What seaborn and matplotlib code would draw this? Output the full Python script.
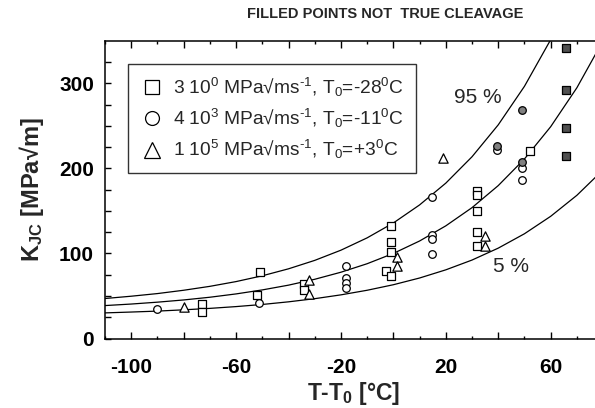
import matplotlib
matplotlib.use("Agg")
import matplotlib.pyplot as plt
from matplotlib.lines import Line2D
import seaborn as sns
import pandas as pd

# ---- data ----
sq_T = [-73, -73, -51, -52, -34, -34, -1, -1, -1, -3, -1, 32, 32, 32, 32, 32, 52.2]
sq_K = [40.6, 31.6, 78.6, 51.5, 63.5, 57.0, 132.4, 113.7, 101.9, 79.2, 74.0,
        173.5, 168.5, 150.0, 125.0, 109.2, 219.8]
sq_fill_T = [66, 66, 66, 66]
sq_fill_K = [341.4, 292.4, 247.3, 214.7]

ci_T = [-90.2, -51.1, -18.2, -18.2, -18.2, -18.2, 14.9, 14.9, 14.9, 14.9, 39.5, 48.9, 48.9]
ci_K = [35.1, 41.8, 85.3, 70.8, 64.9, 59.0, 166.8, 121.5, 116.5, 99.2, 221.8, 200.2, 186.5]
ci_fill_T = [48.9, 39.5, 48.9]
ci_fill_K = [268.0, 226.5, 208.0]

tr_T = [-80, -32.2, -32.2, 1.2, 1.2, 19, 35.1, 35.1]
tr_K = [36.7, 68.8, 52.0, 95.8, 85.5, 212.0, 120.0, 108.8]

curve_T = [-110, -100, -90, -80, -70, -60, -50, -40, -30, -20, -10, 0,
           10, 20, 30, 40, 50, 60, 70, 80]
curve_05 = [30.1, 31.1, 32.2, 33.7, 35.4, 37.5, 40.0, 43.1, 46.8, 51.3, 56.7, 63.2,
            71.1, 80.7, 92.2, 106.2, 123.1, 143.6, 168.3, 198.2]
curve_50 = [38.7, 40.5, 42.7, 45.3, 48.5, 52.4, 57.1, 62.7, 69.6, 77.9, 87.9, 100.0,
            114.6, 132.4, 153.8, 179.7, 211.0, 248.9, 294.7, 350.1]
curve_95 = [47.0, 49.7, 52.8, 56.7, 61.3, 66.9, 73.7, 81.9, 91.8, 103.8, 118.3, 135.8,
            157.0, 182.6, 213.6, 251.1, 296.4, 351.2, 417.5, 497.7]

legend_labels = [
    r"3 10$^\mathregular{0}$ MPa√ms$^{\text{-1}}$, T$_\mathregular{0}$=-28$^\mathregular{0}$C",
    r"4 10$^\mathregular{3}$ MPa√ms$^{\text{-1}}$, T$_\mathregular{0}$=-11$^\mathregular{0}$C",
    r"1 10$^\mathregular{5}$ MPa√ms$^{\text{-1}}$, T$_\mathregular{0}$=+3$^\mathregular{0}$C",
]
x_ticks = [-100, -80, -60, -40, -20, 0, 20, 40, 60]
x_ticklabels = ["-100", "", "-60", "", "-20", "", "20", "", "60"]
y_ticks = [0, 25, 50, 75, 100, 125, 150, 175, 200, 225, 250, 275, 300, 325]
y_ticklabels = ["0", "", "", "", "100", "", "", "", "200", "", "", "", "300", ""]

# ---- style ----
sns.set_theme(style="ticks")
plt.rcParams["font.family"] = ["Liberation Sans", "DejaVu Sans"]
plt.rcParams["mathtext.fontset"] = "custom"
plt.rcParams["mathtext.rm"] = "Liberation Sans"
plt.rcParams["mathtext.it"] = "Liberation Sans:italic"
plt.rcParams["mathtext.bf"] = "Liberation Sans:bold"

fig = plt.figure(figsize=(5.95, 4.08), dpi=100)
ax = fig.add_axes([105 / 595, 1 - 338.5 / 408, (603.1 - 105) / 595, (338.5 - 40.7) / 408])

curves = pd.DataFrame({"T": curve_T * 3,
                       "K": curve_05 + curve_50 + curve_95,
                       "c": ["05"] * 20 + ["50"] * 20 + ["95"] * 20})
sns.lineplot(data=curves, x="T", y="K", units="c", estimator=None, color="black",
             lw=0.9, ax=ax, legend=False)

ms = 30
kw = dict(color="white", edgecolor="black", linewidth=0.9, ax=ax, legend=False, zorder=3)
sns.scatterplot(x=sq_T, y=sq_K, marker="s", s=ms, **kw)
sns.scatterplot(x=ci_T, y=ci_K, marker="o", s=ms, **kw)
sns.scatterplot(x=tr_T, y=tr_K, marker="^", s=ms * 1.5, **kw)
sns.scatterplot(x=sq_fill_T, y=sq_fill_K, marker="s", s=ms, color="#505050",
                edgecolor="black", linewidth=0.9, ax=ax, legend=False, zorder=3)
sns.scatterplot(x=ci_fill_T, y=ci_fill_K, marker="o", s=ms, color="#808080",
                edgecolor="black", linewidth=0.9, ax=ax, legend=False, zorder=3)

ax.set_xlim(-110, 80)
ax.set_ylim(0, 350)
ax.set_xticks(x_ticks)
ax.set_xticklabels(x_ticklabels)
ax.set_xticks(list(range(-110, 81, 10)), minor=True)
ax.set_yticks(y_ticks)
ax.set_yticklabels(y_ticklabels)
ax.tick_params(axis="both", which="both", direction="in", top=True, right=False,
               width=1.0, labelsize=15, colors="black")
ax.tick_params(axis="x", which="major", length=5, pad=14)
ax.tick_params(axis="x", which="minor", length=2.5)
ax.tick_params(axis="y", which="major", length=4, pad=8)
for lab in ax.get_xticklabels() + ax.get_yticklabels():
    lab.set_fontweight("bold")
for s in ["left", "bottom", "top"]:
    ax.spines[s].set_linewidth(1.1)
    ax.spines[s].set_color("black")
ax.spines["right"].set_visible(False)

ax.set_xlabel(r"T-T$_\mathbf{0}$ [°C]", fontsize=16.5, fontweight="bold", labelpad=2)
ax.set_ylabel(r"K$_\mathbf{JC}$ [MPa√m]", fontsize=17, fontweight="bold", labelpad=9)
fig.text(385 / 595, 1 - 14 / 408, "FILLED POINTS NOT  TRUE CLEAVAGE", ha="center",
         va="center", fontsize=10.5, fontweight="bold")

ax.text(32.2, 283, "95 %", fontsize=15, ha="center", va="center")
ax.text(44.8, 85, "5 %", fontsize=15, ha="center", va="center")

handles = [
    Line2D([], [], marker="s", ls="none", mfc="white", mec="black", ms=10, mew=0.9),
    Line2D([], [], marker="o", ls="none", mfc="white", mec="black", ms=10, mew=0.9),
    Line2D([], [], marker="^", ls="none", mfc="white", mec="black", ms=11, mew=0.9),
]
leg = ax.legend(handles, legend_labels, loc="upper left", bbox_to_anchor=(0.046, 0.922),
                borderaxespad=0, frameon=True, fancybox=False, fontsize=13.8,
                handletextpad=0.45, handlelength=1.3, labelspacing=0.42, borderpad=0.62)
leg.get_frame().set_edgecolor("black")
leg.get_frame().set_linewidth(1.0)

fig.savefig("out.png", dpi=100)
